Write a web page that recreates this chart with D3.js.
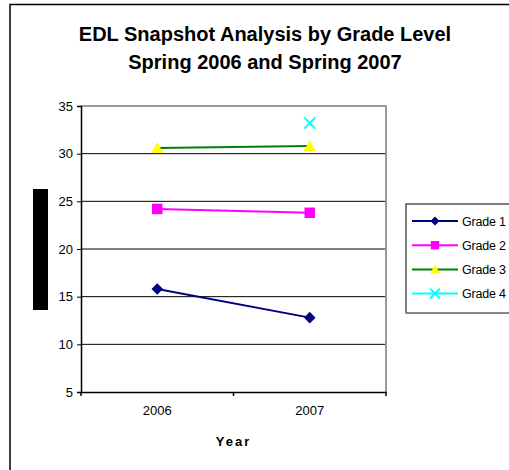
<!DOCTYPE html>
<html>
<head>
<meta charset="utf-8">
<script src="https://cdn.jsdelivr.net/npm/d3@7"></script>
<style>
  body { margin: 0; background: #fff; }
  text { font-family: "Liberation Sans", Arial, sans-serif; }
</style>
</head>
<body>
<div id="main"></div>
<script>
var years = ['2006', '2007'];
var grade1 = [15.8, 12.8];
var grade2 = [24.2, 23.8];
var grade3 = [30.6, 30.8];
var grade4 = [null, 33.2];
var yTicks = [5, 10, 15, 20, 25, 30, 35];

var series = [
  { name: 'Grade 1', values: grade1, line: '#000080', fill: '#000080', shape: 'diamond' },
  { name: 'Grade 2', values: grade2, line: '#ff00ff', fill: '#ff00ff', shape: 'square' },
  { name: 'Grade 3', values: grade3, line: '#008000', fill: '#ffff00', shape: 'triangle' },
  { name: 'Grade 4', values: grade4, line: '#00ffff', fill: '#00ffff', shape: 'cross' }
];

var width = 509, height = 470;
var plot = { left: 81, top: 106, right: 386, bottom: 392 };

var svg = d3.select('#main').append('svg')
    .attr('width', width).attr('height', height);

// outer chart frame (only left and top visible)
svg.append('path')
    .attr('d', 'M10,470 V4.5 H509')
    .attr('fill', 'none').attr('stroke', '#000').attr('stroke-width', 1.5);

var x = d3.scaleBand().domain(years).range([plot.left, plot.right]);
var y = d3.scaleLinear().domain([5, 35]).range([plot.bottom, plot.top]);

// title
var title = svg.append('text')
    .attr('text-anchor', 'middle')
    .attr('font-size', 20).attr('font-weight', 'bold');
title.append('tspan').attr('x', 265).attr('y', 41).text('EDL Snapshot Analysis by Grade Level');
title.append('tspan').attr('x', 265).attr('y', 69).text('Spring 2006 and Spring 2007');

// gridlines
svg.append('g')
  .selectAll('line')
  .data(yTicks.filter(function(d) { return d > 5 && d < 35; }))
  .join('line')
    .attr('x1', plot.left).attr('x2', plot.right)
    .attr('y1', function(d) { return y(d); }).attr('y2', function(d) { return y(d); })
    .attr('stroke', '#000').attr('stroke-width', 1);

// plot border top/right gray
svg.append('path')
    .attr('d', 'M' + plot.left + ',' + plot.top + ' H' + plot.right + ' V' + plot.bottom)
    .attr('fill', 'none').attr('stroke', '#999').attr('stroke-width', 2);

// y axis
var yAxis = svg.append('g')
    .attr('transform', 'translate(' + plot.left + ',0)')
    .call(d3.axisLeft(y).tickValues(yTicks).tickSize(4).tickPadding(4));
yAxis.select('.domain').attr('stroke-width', 1.5);
yAxis.selectAll('text').attr('font-size', 13).attr('fill', '#000')
    .style('font-family', '"Liberation Sans", Arial, sans-serif');

// x axis
var xAxis = svg.append('g')
    .attr('transform', 'translate(0,' + plot.bottom + ')')
    .call(d3.axisBottom(x).tickSize(0).tickPadding(14));
xAxis.select('.domain').attr('stroke-width', 1.5);
xAxis.selectAll('text').attr('font-size', 13).attr('fill', '#000')
    .style('font-family', '"Liberation Sans", Arial, sans-serif');
// category divider ticks
xAxis.selectAll('.div')
  .data([plot.left, plot.left + x.step(), plot.right])
  .join('line')
    .attr('x1', function(d) { return d; }).attr('x2', function(d) { return d; })
    .attr('y1', 0).attr('y2', 4)
    .attr('stroke', '#000').attr('stroke-width', 1.5);

svg.append('text')
    .attr('x', (plot.left + plot.right) / 2).attr('y', 446)
    .attr('text-anchor', 'middle')
    .attr('font-size', 13).attr('font-weight', 'bold')
    .attr('letter-spacing', 2)
    .text('Year');

// redacted y-axis title block
svg.append('rect')
    .attr('x', 33).attr('y', 189).attr('width', 15).attr('height', 121)
    .attr('fill', '#000');

function markerPath(shape) {
  if (shape === 'diamond') return d3.symbol().type(d3.symbolDiamond2).size(85)();
  if (shape === 'square') return d3.symbol().type(d3.symbolSquare).size(110)();
  if (shape === 'triangle') return 'M0,-6 L6,5 L-6,5 Z';
  return 'M-5.5,-5.5 L5.5,5.5 M-5.5,5.5 L5.5,-5.5';
}

function drawMarker(g, s, cx, cy, k) {
  var p = g.append('path')
      .attr('d', markerPath(s.shape))
      .attr('transform', 'translate(' + cx + ',' + cy + ') scale(' + (k || 1) + ')');
  if (s.shape === 'cross') {
    p.attr('fill', 'none').attr('stroke', s.fill).attr('stroke-width', 2 / (k || 1));
  } else {
    p.attr('fill', s.fill).attr('stroke', 'none');
  }
}

var line = d3.line()
    .defined(function(d) { return d != null; })
    .x(function(d, i) { return x(years[i]) + x.bandwidth() / 2; })
    .y(function(d) { return y(d); });

series.forEach(function(s) {
  var g = svg.append('g');
  g.append('path')
      .attr('d', line(s.values))
      .attr('fill', 'none').attr('stroke', s.line).attr('stroke-width', 2);
  s.values.forEach(function(v, i) {
    if (v == null) return;
    drawMarker(g, s, x(years[i]) + x.bandwidth() / 2, y(v));
  });
});

// legend
var legend = svg.append('g');
legend.append('rect')
    .attr('x', 406).attr('y', 204).attr('width', 110).attr('height', 109)
    .attr('fill', '#fff').attr('stroke', '#000').attr('stroke-width', 1);
legend.append('line')
    .attr('x1', 406).attr('x2', 509).attr('y1', 313).attr('y2', 313)
    .attr('stroke', '#888').attr('stroke-width', 1.5);
series.forEach(function(s, i) {
  var ly = 221 + i * 24.2;
  legend.append('line')
      .attr('x1', 412).attr('x2', 458).attr('y1', ly).attr('y2', ly)
      .attr('stroke', s.line).attr('stroke-width', 2);
  drawMarker(legend.append('g'), s, 435, ly, s.shape === 'cross' ? 0.9 : 0.8);
  legend.append('text')
      .attr('x', 462).attr('y', ly + 4.5)
      .attr('font-size', 12.5).attr('letter-spacing', -0.2)
      .text(s.name);
});
</script>
</body>
</html>
